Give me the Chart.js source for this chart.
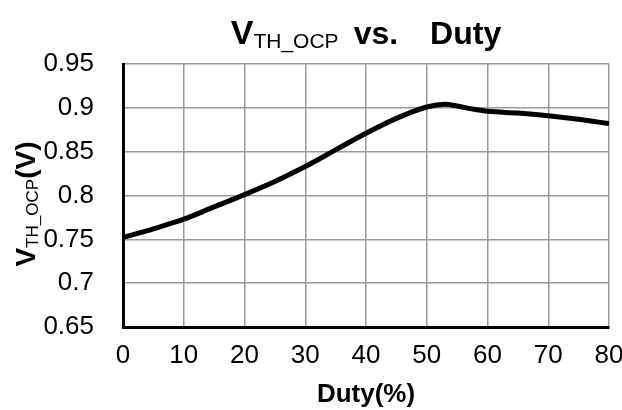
<!DOCTYPE html>
<html>
<head>
<meta charset="utf-8">
<script src="https://cdn.jsdelivr.net/npm/chart.js@4.4.1/dist/chart.umd.min.js"></script>
<style>
  html, body { margin: 0; padding: 0; background: #fff; }
  #wrap { width: 622px; height: 410px; }
</style>
</head>
<body>
<div id="wrap"><canvas id="vthChart" width="622" height="410"></canvas></div>
<script>
// Duty (%) sample points
const duty = [0, 5, 10, 15, 20, 25, 30, 35, 40, 45, 50, 53, 55, 58, 60, 65, 70, 75, 80];
// V_TH_OCP (V)
const vth = [0.752, 0.762, 0.773, 0.787, 0.801, 0.816, 0.833, 0.852, 0.871, 0.888, 0.901, 0.904, 0.902, 0.898, 0.896, 0.894, 0.891, 0.887, 0.882];

// Tick labels
const xTicks = [0, 10, 20, 30, 40, 50, 60, 70, 80];
const yTicks = [0.65, 0.7, 0.75, 0.8, 0.85, 0.9, 0.95];

const FONT = '"Liberation Sans", Arial, sans-serif';

// draw a row of text pieces (with subscripts) centred on x = 0
function drawPieces(ctx, pieces) {
  let total = 0;
  pieces.forEach(p => {
    ctx.font = p.font;
    p.w = ctx.measureText(p.t).width;
    total += p.w + (p.gap || 0);
  });
  let x = -total / 2;
  pieces.forEach(p => {
    x += p.gap || 0;
    ctx.font = p.font;
    ctx.fillText(p.t, x, p.dy || 0);
    x += p.w;
  });
}

// Title and axis titles (need subscripts, so drawn by hand)
const titlesPlugin = {
  id: 'titles',
  afterDraw(chart) {
    const ctx = chart.ctx;
    const area = chart.chartArea;
    const cx = (area.left + area.right) / 2;
    ctx.save();
    ctx.fillStyle = '#000';
    ctx.textAlign = 'left';
    ctx.textBaseline = 'alphabetic';

    // chart title
    ctx.save();
    ctx.translate(cx, 44);
    drawPieces(ctx, [
      { t: 'V', font: 'bold 34px ' + FONT },
      { t: 'TH_OCP', font: '21px ' + FONT, dy: 4 },
      { t: 'vs.', font: 'bold 32px ' + FONT, gap: 15 },
      { t: 'Duty', font: 'bold 32px ' + FONT, gap: 32 }
    ]);
    ctx.restore();

    // y axis title
    ctx.save();
    ctx.translate(35, 204);
    ctx.rotate(-Math.PI / 2);
    drawPieces(ctx, [
      { t: 'V', font: 'bold 28px ' + FONT },
      { t: 'TH_OCP', font: '17px ' + FONT, dy: 3 },
      { t: '(V)', font: 'bold 28px ' + FONT }
    ]);
    ctx.restore();

    // x axis title
    ctx.save();
    ctx.translate(cx, 402);
    drawPieces(ctx, [{ t: 'Duty(%)', font: 'bold 26px ' + FONT }]);
    ctx.restore();

    ctx.restore();
  }
};

const ctx = document.getElementById('vthChart').getContext('2d');
new Chart(ctx, {
  type: 'line',
  data: {
    datasets: [{
      data: duty.map((d, i) => ({ x: d, y: vth[i] })),
      borderColor: '#000',
      borderWidth: 5,
      pointRadius: 0,
      fill: false,
      cubicInterpolationMode: 'monotone'
    }]
  },
  options: {
    responsive: false,
    animation: false,
    layout: { padding: { top: 64, right: 0, left: 0, bottom: 0 } },
    plugins: {
      legend: { display: false },
      title: { display: false },
      tooltip: { enabled: false }
    },
    scales: {
      x: {
        type: 'linear',
        min: 0,
        max: 80,
        afterBuildTicks: (scale) => { scale.ticks = xTicks.map(v => ({ value: v })); },
        afterFit: (scale) => {
          scale.height = 83;
          scale.paddingLeft = 0;
          scale.paddingRight = 13;
        },
        grid: { color: '#9a9a9a', lineWidth: 1.5, drawTicks: false },
        border: { display: true, color: '#000', width: 3 },
        ticks: {
          color: '#000',
          font: { family: FONT, size: 26 },
          padding: 13,
          maxRotation: 0,
          callback: (v) => String(v)
        }
      },
      y: {
        min: 0.65,
        max: 0.95,
        afterBuildTicks: (scale) => { scale.ticks = yTicks.map(v => ({ value: v })); },
        afterFit: (scale) => { scale.width = 123; },
        grid: { color: '#9a9a9a', lineWidth: 1.5, drawTicks: false },
        border: { display: true, color: '#000', width: 3 },
        ticks: {
          color: '#000',
          font: { family: FONT, size: 26 },
          padding: 29,
          callback: (v) => String(Number(v.toFixed(2)))
        }
      }
    }
  },
  plugins: [titlesPlugin]
});
</script>
</body>
</html>
